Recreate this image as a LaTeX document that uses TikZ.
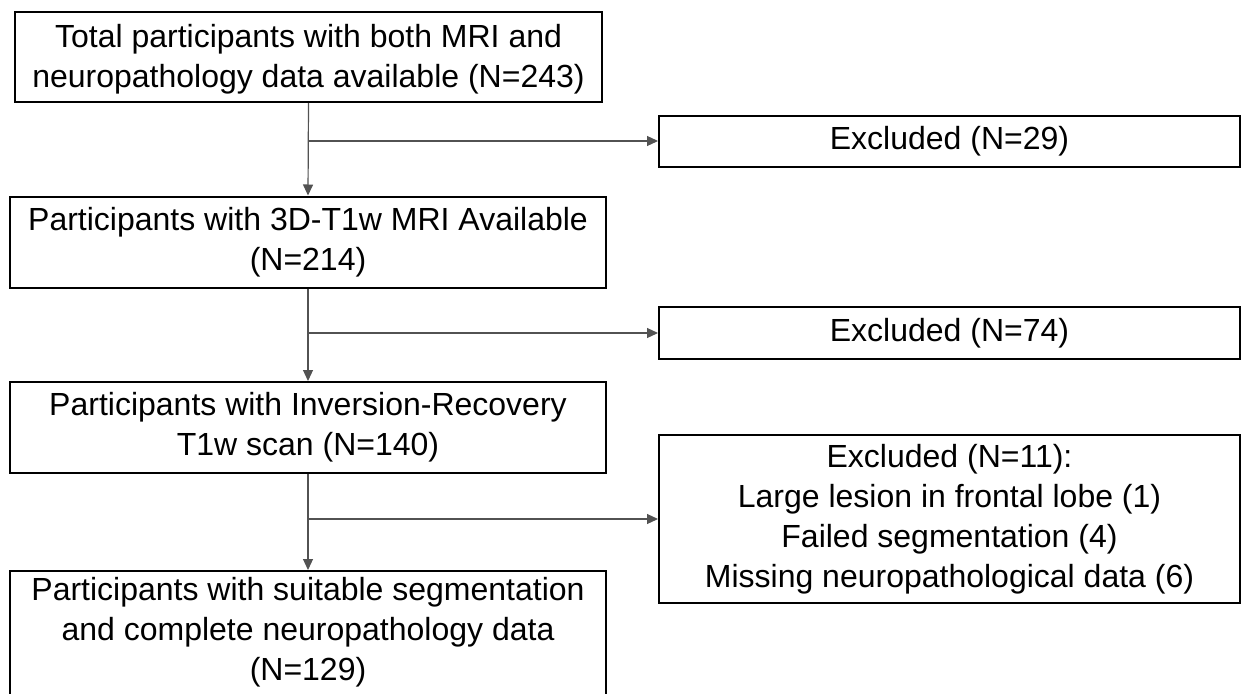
\documentclass[tikz,border=0pt]{standalone}
\usepackage{fontspec}
\setmainfont{Liberation Sans}
\usetikzlibrary{arrows.meta}
\begin{document}
\begin{tikzpicture}[x=1pt,y=-1pt,
  box/.style={draw=black,line width=2pt,rectangle,inner sep=0pt,align=center,
    font=\fontsize{32}{40}\selectfont},
  conn/.style={draw=black!68,line width=1.2pt},
  arr/.style={conn,-{Triangle[length=11pt,width=10pt]}}]
\useasboundingbox (0,0) rectangle (1246,693);
\clip (0,0) rectangle (1246,693);
\fill[white] (0,0) rectangle (1246,693);
% main column
\node[box,minimum width=587pt,minimum height=90pt] (b1) at (308.5,57)
  {\rule{0pt}{27pt}Total participants with both MRI and\\neuropathology data available (N=243)};
\node[box,minimum width=596pt,minimum height=91pt] (b2) at (308,242)
  {Participants with 3D-T1w MRI Available\\(N=214)};
\node[box,minimum width=596pt,minimum height=91pt] (b3) at (308,427.5)
  {Participants with Inversion-Recovery\\T1w scan (N=140)};
\node[box,anchor=north] (b4) at (308,570)
  {\parbox[c][150pt][t]{596pt}{\centering\rule{0pt}{29.5pt}Participants with suitable segmentation\\
   and complete neuropathology data\\(N=129)}};
% excluded column
\node[box,minimum width=581pt,minimum height=51pt] (e1) at (949.5,141) {Excluded (N=29)};
\node[box,minimum width=581pt,minimum height=52pt] (e2) at (949.5,333) {Excluded (N=74)};
\node[box,minimum width=581pt,minimum height=168pt] (e3) at (949.5,519)
  {Excluded (N=11):\\Large lesion in frontal lobe (1)\\Failed segmentation (4)\\Missing neuropathological data (6)};
% connectors
\draw[arr] (b1.south) -- (b2.north);
\draw[arr] (b2.south) -- (b3.north);
\draw[arr] (b3.south) -- (b4.north);
\coordinate (j1) at (b1.south |- e1.west);
\coordinate (j2) at (b2.south |- e2.west);
\coordinate (j3) at (b3.south |- e3.west);
\draw[arr] (j1) -- (e1.west);
\draw[arr] (j2) -- (e2.west);
\draw[arr] (j3) -- (e3.west);
\end{tikzpicture}
\end{document}
